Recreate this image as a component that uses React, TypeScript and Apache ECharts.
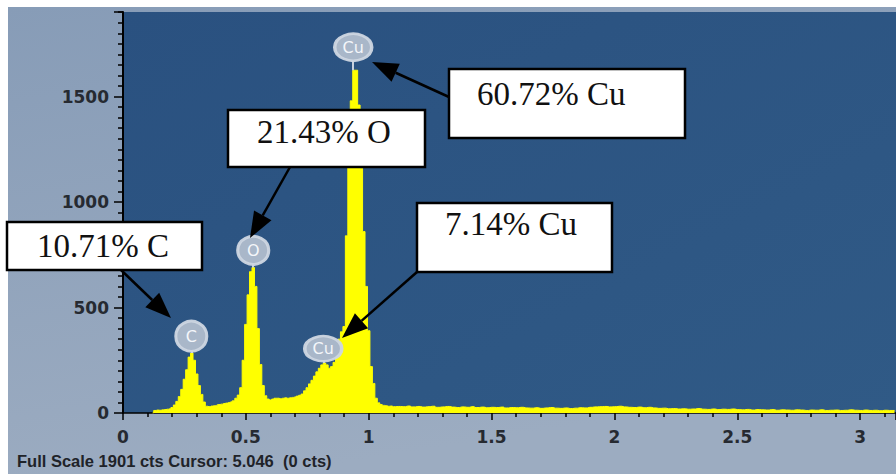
import { useEffect, useRef } from "react";
import * as echarts from "echarts";

// ---- spectrum data (counts per channel) ----
const LOW_START_KEV = 0.12;
const LOW_STEP_KEV = 0.01;
const lowCounts = [
  0, 12, 14, 13, 15, 16, 18, 20, 26, 38, 55,
  78, 112, 160, 205, 265, 284, 250, 185, 130, 88,
  52, 32, 30, 33, 34, 36, 40, 42, 45, 47,
  50, 53, 58, 70, 85, 120, 250, 420, 560, 670,
  690, 600, 400, 230, 130, 82, 66, 62, 66, 70,
  70, 68, 70, 72, 70, 72, 74, 76, 80, 84,
  90, 105, 120, 138, 155, 175, 195, 212, 228, 237,
  228, 212, 220, 240, 290, 350, 385, 410, 840, 1170,
  1480, 1625, 1625, 1460, 1160, 860, 600, 390, 220, 140,
  70, 48, 40, 36, 34, 32, 33, 30,
];

const TAIL_START_KEV = 1.12;
const TAIL_STEP_KEV = 0.02;
const tailCounts = [
  31, 30, 33, 29, 31, 28, 30, 32, 27, 29,
  31, 28, 26, 29, 27, 30, 26, 28, 25, 27,
  26, 28, 24, 26, 25, 27, 24, 23, 25, 22,
  24, 26, 23, 22, 24, 21, 23, 25, 24, 27,
  29, 30, 31, 29, 30, 32, 29, 27, 26, 28,
  25, 27, 24, 22, 23, 20, 21, 19, 20, 18,
  19, 21, 18, 17, 19, 16, 18, 17, 19, 16,
  15, 17, 14, 16, 15, 14, 16, 13, 15, 14,
  13, 15, 14, 12, 14, 13, 15, 12, 13, 14,
  12, 13, 15, 13, 12, 14, 12, 13, 11, 13,
  12, 12,
];

// ---- peak identification badges ----
const peakElements = ["C", "O", "Cu", "Cu"];
const peakEnergies = [0.278, 0.53, 0.937, 0.815];
const badgeCounts = [364, 771, 1734, 305];
const peakTopCounts = [284, 690, 1625, 237];

// ---- composition annotations ----
const compositionLabels = ["60.72% Cu", "21.43% O", "7.14% Cu", "10.71% C"];
const footerText = "Full Scale 1901 cts Cursor: 5.046  (0 cts)";

const X_MAX = 3.146;
const Y_MAX = 1901;

// layout (pixels) for the annotation boxes and arrows
const annotationLayout = [
  { box: [449, 69, 236, 69], textAt: [477, 94], from: [449, 97], to: [372, 62] },
  { box: [228, 110, 197, 57], textAt: [257, 132], from: [290, 167], to: [250, 238] },
  { box: [417, 203, 195, 69], textAt: [445, 224], from: [417, 272], to: [342, 338] },
  { box: [7, 222, 195, 48], textAt: [37, 246], from: [121, 270], to: [171, 318] },
];
const badgeSizes = [
  [31, 30],
  [31, 28],
  [37, 27],
  [37, 25],
];

function round(v: number) {
  return Math.round(v * 1000) / 1000;
}

function buildSpectrum(): number[][] {
  const pts: number[][] = [];
  lowCounts.forEach((c, i) => pts.push([round(LOW_START_KEV + i * LOW_STEP_KEV), c]));
  tailCounts.forEach((c, i) => pts.push([round(TAIL_START_KEV + i * TAIL_STEP_KEV), c]));
  return pts;
}

function arrow(from: number[], to: number[]) {
  const headLen = 26;
  const hw = 10;
  const dx = to[0] - from[0];
  const dy = to[1] - from[1];
  const len = Math.sqrt(dx * dx + dy * dy);
  const ux = dx / len;
  const uy = dy / len;
  const bx = to[0] - ux * headLen;
  const by = to[1] - uy * headLen;
  const px = -uy;
  const py = ux;
  return [
    {
      type: "line",
      z: 100,
      shape: { x1: from[0], y1: from[1], x2: bx, y2: by },
      style: { stroke: "#000", lineWidth: 2.5 },
    },
    {
      type: "polygon",
      z: 100,
      shape: {
        points: [
          [to[0], to[1]],
          [bx + px * hw, by + py * hw],
          [bx - px * hw, by - py * hw],
        ],
      },
      style: { fill: "#000" },
    },
  ];
}

export default function App() {
  const ref = useRef<HTMLDivElement>(null);

  useEffect(() => {
    if (!ref.current) return;
    const chart = echarts.init(ref.current, null, { renderer: "svg" });

    const graphics: any[] = [
      {
        type: "rect",
        z: -100,
        silent: true,
        shape: { x: 8, y: 7, width: 888, height: 467 },
        style: {
          fill: new echarts.graphic.LinearGradient(0, 0, 0.3, 1, [
            { offset: 0, color: "#879cb7" },
            { offset: 1, color: "#9cacc1" },
          ]),
        },
      },
      {
        type: "text",
        z: 100,
        x: 17,
        y: 461,
        style: {
          text: footerText,
          fontSize: 16.5,
          fontWeight: "bold",
          fontFamily: "Liberation Sans",
          fill: "#1f2329",
          verticalAlign: "middle",
        },
      },
    ];

    annotationLayout.forEach((a, i) => {
      graphics.push({
        type: "rect",
        z: 100,
        shape: { x: a.box[0], y: a.box[1], width: a.box[2], height: a.box[3] },
        style: { fill: "#ffffff", stroke: "#000", lineWidth: 2.5 },
      });
      graphics.push({
        type: "text",
        z: 101,
        x: a.textAt[0],
        y: a.textAt[1],
        style: {
          text: compositionLabels[i],
          fontSize: 33,
          fontFamily: "Liberation Serif",
          fill: "#111",
          verticalAlign: "middle",
        },
      });
      graphics.push(...arrow(a.from, a.to));
    });

    const axisLabelStyle = {
      color: "#262a31",
      fontFamily: "DejaVu Sans",
      fontWeight: "bold" as const,
      fontSize: 17,
      formatter: (v: number) => String(v),
    };

    chart.setOption({
      animation: false,
      backgroundColor: "#ffffff",
      grid: {
        left: 123,
        top: 12,
        right: 0,
        bottom: 61,
        show: true,
        borderWidth: 0,
        backgroundColor: new echarts.graphic.LinearGradient(0, 0, 1, 1, [
          { offset: 0, color: "#2a5180" },
          { offset: 1, color: "#305a86" },
        ]),
      },
      xAxis: {
        type: "value",
        min: 0,
        max: X_MAX,
        interval: 0.5,
        axisLine: { show: true, onZero: false, lineStyle: { color: "#000", width: 1.5 } },
        axisTick: { show: true, length: 7, lineStyle: { color: "#000", width: 1.5 } },
        minorTick: { show: true, splitNumber: 5, length: 4, lineStyle: { color: "#000", width: 1.5 } },
        splitLine: { show: false },
        axisLabel: { ...axisLabelStyle, margin: 15, showMaxLabel: false },
      },
      yAxis: {
        type: "value",
        min: 0,
        max: Y_MAX,
        interval: 500,
        axisLine: { show: true, lineStyle: { color: "#000", width: 2 } },
        axisTick: { show: true, length: 9, lineStyle: { color: "#000", width: 1.5 } },
        minorTick: { show: true, splitNumber: 10, length: 5, lineStyle: { color: "#000", width: 1.5 } },
        splitLine: { show: false },
        axisLabel: { ...axisLabelStyle, margin: 14, showMaxLabel: false },
      },
      series: [
        {
          type: "line",
          step: "middle",
          symbol: "none",
          z: 2,
          data: buildSpectrum(),
          lineStyle: { color: "#ffff00", width: 1 },
          areaStyle: { color: "#ffff00", opacity: 1 },
          markLine: {
            silent: true,
            symbol: ["none", "none"],
            label: { show: false },
            lineStyle: { color: "#c9d2de", width: 2, type: "solid" },
            data: peakElements.map((_, i) => [
              { coord: [peakEnergies[i], badgeCounts[i]] },
              { coord: [peakEnergies[i], peakTopCounts[i]] },
            ]),
          },
        },
        {
          type: "scatter",
          z: 5,
          symbol: "circle",
          data: peakElements.map((el, i) => ({
            name: el,
            value: [peakEnergies[i], badgeCounts[i]],
            symbolSize: badgeSizes[i],
          })),
          itemStyle: {
            color: "#a9b7c9",
            borderColor: "rgba(206,214,226,0.95)",
            borderWidth: 3,
            opacity: 1,
          },
          label: {
            show: true,
            position: "inside",
            formatter: "{b}",
            color: "#f4f6fa",
            fontFamily: "DejaVu Sans",
            fontSize: 16,
          },
        },
      ],
      graphic: { elements: graphics },
    });

    return () => chart.dispose();
  }, []);

  return (
    <div
      ref={ref}
      style={{ position: "fixed", left: 0, top: 0, width: 896, height: 474 }}
    />
  );
}
